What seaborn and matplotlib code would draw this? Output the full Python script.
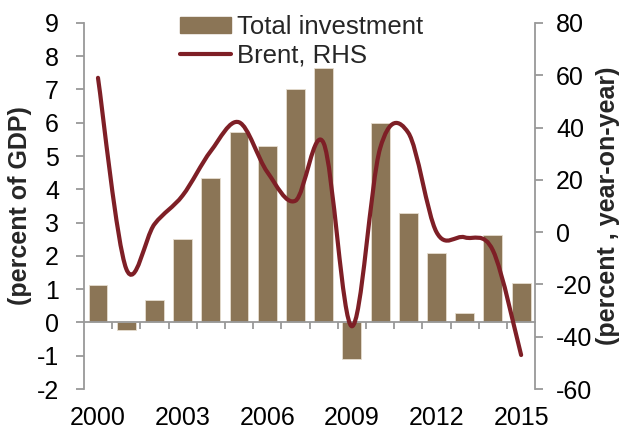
import numpy as np
import pandas as pd
import matplotlib
matplotlib.use("Agg")
import matplotlib.pyplot as plt
from matplotlib.path import Path
from matplotlib.patches import PathPatch
from matplotlib.lines import Line2D
from matplotlib.ticker import FixedLocator, MultipleLocator
import seaborn as sns

# data
years = list(range(2000, 2016))
investment = [1.13, -0.24, 0.66, 2.5, 4.33, 5.71, 5.29, 7.0, 7.64,
              -1.10, 6.0, 3.28, 2.09, 0.27, 2.63, 1.18]
brent = [59, -14, 3, 14, 31, 42, 23, 12, 34, -36, 32, 38, 0, -2, -7, -47]
label_years = [2000, 2003, 2006, 2009, 2012, 2015]

BAR_COLOR = "#8B7556"
LINE_COLOR = "#7E1F26"
SPINE_COLOR = "#999999"


def smooth_path(xs, ys):
    """Excel-style smoothed line: cubic Bezier through every point."""
    pts = np.column_stack([xs, ys]).astype(float)
    n = len(pts)
    verts = [pts[0]]
    codes = [Path.MOVETO]
    for i in range(n - 1):
        p0 = pts[max(i - 1, 0)]
        p1 = pts[i]
        p2 = pts[i + 1]
        p3 = pts[min(i + 2, n - 1)]
        c1 = p1 + (p2 - p0) / 6.0
        c2 = p2 - (p3 - p1) / 6.0
        verts += [c1, c2, p2]
        codes += [Path.CURVE4] * 3
    return Path(verts, codes)


def main():
    sns.set_theme(style="white")
    plt.rcParams["font.family"] = ["Liberation Sans", "DejaVu Sans"]
    plt.rcParams["axes.unicode_minus"] = False

    df = pd.DataFrame({"year": [str(y) for y in years],
                       "investment": investment,
                       "brent": brent})

    fig = plt.figure(figsize=(6.26, 4.32), dpi=100)
    ax = fig.add_axes([0.134, 0.0995, 0.721, 0.8475])

    sns.barplot(data=df, x="year", y="investment", color=BAR_COLOR,
                saturation=1, width=0.67, edgecolor="#E6DED0", linewidth=0.6,
                ax=ax, zorder=2)
    ax.set_xlim(-0.5, len(years) - 0.5)
    ax.set_ylim(-2, 9)
    ax.yaxis.set_major_locator(MultipleLocator(1))

    # category axis sits on zero, labels at the bottom
    ax.spines["bottom"].set_position(("data", 0))
    for s in ["top", "right"]:
        ax.spines[s].set_visible(False)
    for s in ["left", "bottom"]:
        ax.spines[s].set_color(SPINE_COLOR)
        ax.spines[s].set_linewidth(1.3)

    pos = [years.index(y) for y in label_years]
    ax.xaxis.set_major_locator(FixedLocator(pos))
    ax.set_xticklabels([str(y) for y in label_years])
    ax.xaxis.set_minor_locator(FixedLocator(np.arange(0.5, len(years) - 0.5, 1)))
    ax.tick_params(axis="x", which="major", length=0, pad=60, labelsize=18,
                   colors="black")
    ax.tick_params(axis="x", which="minor", length=5, width=1.3,
                   color=SPINE_COLOR, direction="out", bottom=True)
    ax.tick_params(axis="y", length=6, width=1.3, color=SPINE_COLOR,
                   direction="out", left=True, labelsize=18, labelcolor="black",
                   pad=12)
    ax.set_xlabel("")
    ax.set_ylabel("(percent of GDP)", fontsize=18, fontweight="bold")
    ax.yaxis.set_label_coords(-0.115, 0.5)

    # right axis with Brent
    ax2 = ax.twinx()
    ax2.set_ylim(-60, 80)
    ax2.yaxis.set_major_locator(MultipleLocator(20))
    patch = PathPatch(smooth_path(np.arange(len(years)), brent),
                      facecolor="none", edgecolor=LINE_COLOR, linewidth=3.0,
                      capstyle="round", joinstyle="round", zorder=3)
    ax2.add_patch(patch)
    for s in ["top", "left", "bottom"]:
        ax2.spines[s].set_visible(False)
    ax2.spines["right"].set_color(SPINE_COLOR)
    ax2.spines["right"].set_linewidth(1.3)
    ax2.tick_params(axis="y", length=6, width=1.3, color=SPINE_COLOR,
                    direction="out", right=True, labelsize=18,
                    labelcolor="black", pad=9)
    ax2.grid(False)
    ax.grid(False)
    ax2.set_ylabel("(percent , year-on-year)", fontsize=18,
                   fontweight="bold")
    ax2.yaxis.set_label_coords(1.135, 0.5)

    handles = [plt.Rectangle((0, 0), 1, 1, color=BAR_COLOR),
               Line2D([0], [0], color=LINE_COLOR, linewidth=3.0,
                      solid_capstyle="round")]
    ax2.legend(handles, ["Total investment", "Brent, RHS"],
               loc="upper left", bbox_to_anchor=(0.213, 1.021),
               frameon=False, fontsize=18.5, handlelength=2.0,
               handleheight=0.6, handletextpad=0.2, labelspacing=0.17,
               borderpad=0, borderaxespad=0)

    fig.savefig("out.png", dpi=100)
    plt.close(fig)


if __name__ == "__main__":
    main()
